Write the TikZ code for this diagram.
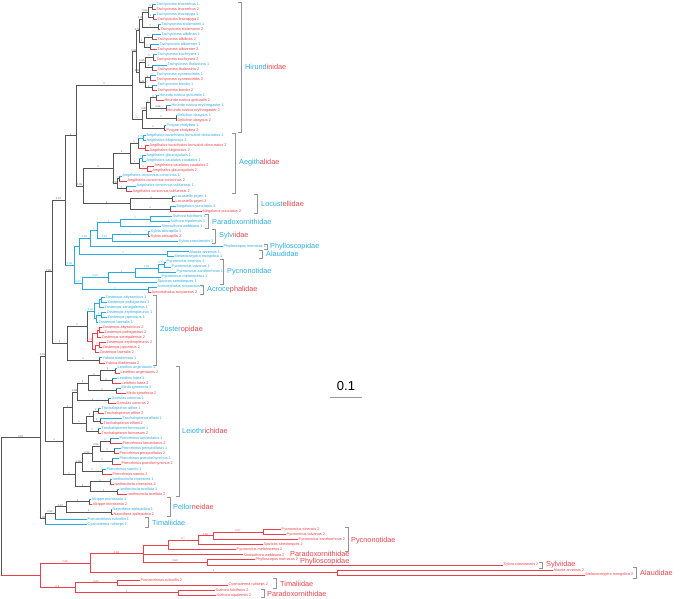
\documentclass[tikz,border=0pt]{standalone}
\usepackage{fontspec}
\setmainfont{Liberation Sans}
\definecolor{cy}{RGB}{41,171,226}
\definecolor{rd}{RGB}{232,65,75}
\definecolor{gk}{RGB}{85,85,85}
\newcommand\TIP[5]{\coordinate (#1) at (#2,{4.2+5.05*#3}); \node[tiplab,text=#4] (#1t) at (#1) {#5};}
\newcommand\ND[4]{\path (#3) -- (#4) coordinate[midway] (m#1); \coordinate (#1) at (m#1 -| #2,0);}
\newcommand\BR[5]{\draw[#1] (#3) -- (#3 |- #4); \draw[#2] (#3 |- #4) -- node[sup,text=#2]{#5} (#4);}
\newcommand\PR[3]{\BR{gk}{cy}{#1}{#2}{}\BR{gk}{rd}{#1}{#3}{}}
\newcommand\BRK[3]{\draw[brk] (#1-3,#2) -- (#1,#2) -- (#1,#3) -- (#1-3,#3);}
\begin{document}
\begin{tikzpicture}[x=1pt,y=-1pt,line width=0.45pt,line cap=rect,
 tiplab/.style={anchor=west,font=\fontsize{3.8}{4}\selectfont,inner sep=0.5pt},
 sup/.style={above,font=\fontsize{2.6}{3}\selectfont,inner sep=0.15pt},
 fam/.style={anchor=west,font=\fontsize{7.3}{8}\selectfont,inner sep=0pt},
 brk/.style={draw=gray!85,line width=0.5pt}]
\useasboundingbox (0,0) rectangle (683,598);
% ---------------- tips
\TIP{t0}{156}{0}{cy}{Tachycineta leucorrhoa 1}
\TIP{t1}{156}{1}{rd}{Tachycineta leucorrhoa 2}
\TIP{t2}{156}{2}{cy}{Tachycineta leucopyga 1}
\TIP{t3}{157}{3}{rd}{Tachycineta leucopyga 2}
\TIP{t4}{161}{4}{cy}{Tachycineta stolzmanni 1}
\TIP{t5}{160}{5}{rd}{Tachycineta stolzmanni 2}
\TIP{t6}{161}{6}{cy}{Tachycineta albilinea 1}
\TIP{t7}{157}{7}{rd}{Tachycineta albilinea 2}
\TIP{t8}{159}{8}{cy}{Tachycineta albiventer 1}
\TIP{t9}{157}{9}{rd}{Tachycineta albiventer 2}
\TIP{t10}{157}{10}{cy}{Tachycineta euchrysea 1}
\TIP{t11}{156}{11}{rd}{Tachycineta euchrysea 2}
\TIP{t12}{167}{12}{cy}{Tachycineta thalassina 1}
\TIP{t13}{157}{13}{rd}{Tachycineta thalassina 2}
\TIP{t14}{156}{14}{cy}{Tachycineta cyaneoviridis 1}
\TIP{t15}{156}{15}{rd}{Tachycineta cyaneoviridis 2}
\TIP{t16}{157}{16}{cy}{Tachycineta bicolor 1}
\TIP{t17}{157}{17}{rd}{Tachycineta bicolor 2}
\TIP{t18}{159}{18}{cy}{Hirundo rustica gutturalis 1}
\TIP{t19}{164}{19}{rd}{Hirundo rustica gutturalis 2}
\TIP{t20}{171}{20}{cy}{Hirundo rustica erythrogaster 1}
\TIP{t21}{167}{21}{rd}{Hirundo rustica erythrogaster 2}
\TIP{t22}{177}{22}{cy}{Delichon dasypus 1}
\TIP{t23}{177}{23}{rd}{Delichon dasypus 2}
\TIP{t24}{166}{24}{cy}{Progne chalybea 1}
\TIP{t25}{166}{25}{rd}{Progne chalybea 2}
\TIP{t26}{146}{26}{cy}{Aegithalos iouschistos bonvaloti obscuratus 1}
\TIP{t27}{146}{27}{cy}{Aegithalos fuliginosus 1}
\TIP{t28}{149}{28}{rd}{Aegithalos iouschistos bonvaloti obscuratus 2}
\TIP{t29}{149}{29}{rd}{Aegithalos fuliginosus 2}
\TIP{t30}{146}{30}{cy}{Aegithalos glaucogularis 1}
\TIP{t31}{146}{31}{cy}{Aegithalos caudatus caudatus 1}
\TIP{t32}{154}{32}{rd}{Aegithalos caudatus caudatus 2}
\TIP{t33}{152}{33}{rd}{Aegithalos glaucogularis 2}
\TIP{t34}{122}{34}{cy}{Aegithalos concinnus concinnus 1}
\TIP{t35}{127}{35}{rd}{Aegithalos concinnus concinnus 2}
\TIP{t36}{136}{36}{cy}{Aegithalos concinnus talifuensis 1}
\TIP{t37}{132}{37}{rd}{Aegithalos concinnus talifuensis 2}
\TIP{t38}{175}{38}{cy}{Locustella pryeri 1}
\TIP{t39}{175}{39}{rd}{Locustella pryeri 2}
\TIP{t40}{176}{40}{cy}{Megalurus punctatus 1}
\TIP{t41}{202}{41}{rd}{Megalurus punctatus 2}
\TIP{t42}{172}{42}{cy}{Suthora fulvifrons 1}
\TIP{t43}{170}{43}{cy}{Suthora nipalensis 1}
\TIP{t44}{161}{44}{cy}{Sinosuthora webbiana 1}
\TIP{t45}{150}{45}{cy}{Sylvia atricapilla 1}
\TIP{t46}{150}{46}{rd}{Sylvia atricapilla 2}
\TIP{t47}{178}{47}{cy}{Sylvia crassirostris 1}
\TIP{t48}{223}{48}{cy}{Phylloscopus inornatus 1}
\TIP{t49}{189}{49}{cy}{Alauda arvensis 1}
\TIP{t50}{174}{50}{cy}{Melanocorypha mongolica 1}
\TIP{t51}{166}{51}{cy}{Pycnonotus sinensis 1}
\TIP{t52}{171}{52}{cy}{Pycnonotus taivanus 1}
\TIP{t53}{176}{53}{cy}{Pycnonotus xanthorrhous 1}
\TIP{t54}{161}{54}{cy}{Pycnonotus melanicterus 1}
\TIP{t55}{157}{55}{cy}{Spizixos semitorques 1}
\TIP{t56}{157}{56}{cy}{Acrocephalus scirpaceus 1}
\TIP{t57}{151}{57}{rd}{Acrocephalus scirpaceus 2}
\TIP{t58}{105}{58}{cy}{Zosterops abyssinicus 1}
\TIP{t59}{107}{59}{cy}{Zosterops poliogastrus 1}
\TIP{t60}{104}{60}{cy}{Zosterops senegalensis 1}
\TIP{t61}{106}{61}{cy}{Zosterops erythropleurus 1}
\TIP{t62}{107}{62}{cy}{Zosterops japonicus 1}
\TIP{t63}{98}{63}{cy}{Zosterops lateralis 1}
\TIP{t64}{102}{64}{rd}{Zosterops abyssinicus 2}
\TIP{t65}{104}{65}{rd}{Zosterops poliogastrus 2}
\TIP{t66}{101}{66}{rd}{Zosterops senegalensis 2}
\TIP{t67}{106}{67}{rd}{Zosterops erythropleurus 2}
\TIP{t68}{102}{68}{rd}{Zosterops japonicus 2}
\TIP{t69}{99}{69}{rd}{Zosterops lateralis 2}
\TIP{t70}{102}{70}{cy}{Yuhina diademata 1}
\TIP{t71}{105}{71}{rd}{Yuhina diademata 2}
\TIP{t72}{117}{72}{cy}{Leiothrix argentauris 1}
\TIP{t73}{120}{73}{rd}{Leiothrix argentauris 2}
\TIP{t74}{117}{74}{cy}{Leiothrix lutea 1}
\TIP{t75}{121}{75}{rd}{Leiothrix lutea 2}
\TIP{t76}{121}{76}{cy}{Minla ignotincta 1}
\TIP{t77}{126}{77}{rd}{Minla ignotincta 2}
\TIP{t78}{111}{78}{cy}{Garrulax canorus 1}
\TIP{t79}{116}{79}{rd}{Garrulax canorus 2}
\TIP{t80}{101}{80}{cy}{Trochalopteron affine 1}
\TIP{t81}{104}{81}{rd}{Trochalopteron affine 2}
\TIP{t82}{122}{82}{cy}{Trochalopteron elliotii 1}
\TIP{t83}{103}{83}{rd}{Trochalopteron elliotii 2}
\TIP{t84}{101}{84}{cy}{Trochalopteron formosum 1}
\TIP{t85}{101}{85}{rd}{Trochalopteron formosum 2}
\TIP{t86}{119}{86}{cy}{Pterorhinus lanceolatus 1}
\TIP{t87}{122}{87}{rd}{Pterorhinus lanceolatus 2}
\TIP{t88}{121}{88}{cy}{Pterorhinus perspicillatus 1}
\TIP{t89}{119}{89}{rd}{Pterorhinus perspicillatus 2}
\TIP{t90}{119}{90}{cy}{Pterorhinus poecilorhynchus 1}
\TIP{t91}{121}{91}{rd}{Pterorhinus poecilorhynchus 2}
\TIP{t92}{106}{92}{cy}{Pterorhinus sannio 1}
\TIP{t93}{112}{93}{rd}{Pterorhinus sannio 2}
\TIP{t94}{112}{94}{cy}{Ianthocincla cineracea 1}
\TIP{t95}{114}{95}{rd}{Ianthocincla cineracea 2}
\TIP{t96}{119}{96}{cy}{Ianthocincla ocellata 1}
\TIP{t97}{127}{97}{rd}{Ianthocincla ocellata 2}
\TIP{t98}{91}{98}{cy}{Alcippe morrisonia 1}
\TIP{t99}{92}{99}{rd}{Alcippe morrisonia 2}
\TIP{t100}{112}{100}{cy}{Napothera epilepidota 1}
\TIP{t101}{113}{101}{rd}{Napothera epilepidota 2}
\TIP{t102}{87}{102}{cy}{Pomatorhinus ruficollis 1}
\TIP{t103}{87}{103}{cy}{Cyanoderma ruficeps 1}
\TIP{t104}{281}{104}{rd}{Pycnonotus sinensis 2}
\TIP{t105}{286}{105}{rd}{Pycnonotus taivanus 2}
\TIP{t106}{298}{106}{rd}{Pycnonotus xanthorrhous 2}
\TIP{t107}{263}{107}{rd}{Spizixos semitorques 2}
\TIP{t108}{236}{108}{rd}{Pycnonotus melanicterus 2}
\TIP{t109}{243}{109}{rd}{Sinosuthora webbiana 2}
\TIP{t110}{255}{110}{rd}{Phylloscopus inornatus 2}
\TIP{t111}{503}{111}{rd}{Sylvia crassirostris 2}
\TIP{t112}{553}{112}{rd}{Alauda arvensis 2}
\TIP{t113}{585}{113}{rd}{Melanocorypha mongolica 2}
\TIP{t114}{140}{114}{rd}{Pomatorhinus ruficollis 2}
\TIP{t115}{228}{115}{rd}{Cyanoderma ruficeps 2}
\TIP{t116}{215}{116}{rd}{Suthora fulvifrons 2}
\TIP{t117}{216}{117}{rd}{Suthora nipalensis 2}
% ---------------- Hirundinidae
\ND{hlr}{152}{t0}{t1}\ND{hlp}{153}{t2}{t3}\ND{hlrlp}{148}{hlr}{hlp}
\ND{hst}{158}{t4}{t5}\ND{hthree}{142}{hlrlp}{hst}
\ND{hal}{152}{t6}{t7}\ND{hav}{150}{t8}{t9}\ND{halav}{144}{hal}{hav}
\ND{hA}{139}{hthree}{halav}
\ND{heu}{153}{t10}{t11}\ND{hth}{152}{t12}{t13}\ND{heuth}{145}{heu}{hth}
\ND{hcy}{150}{t14}{t15}\ND{hbi}{152}{t16}{t17}\ND{hcybi}{145}{hcy}{hbi}
\ND{hB}{139}{heuth}{hcybi}\ND{hT}{136}{hA}{hB}
\ND{hg}{156}{t18}{t19}\ND{he}{166}{t20}{t21}\ND{hR}{150}{hg}{he}
\ND{hD}{176}{t22}{t23}\ND{hRD}{146}{hR}{hD}
\ND{hP}{164}{t24}{t25}\ND{hHP}{142}{hRD}{hP}
\ND{H0}{132}{hT}{hHP}
\PR{hlr}{t0}{t1}\PR{hlp}{t2}{t3}\PR{hst}{t4}{t5}\PR{hal}{t6}{t7}\PR{hav}{t8}{t9}
\PR{heu}{t10}{t11}\PR{hth}{t12}{t13}\PR{hcy}{t14}{t15}\PR{hbi}{t16}{t17}
\PR{hg}{t18}{t19}\PR{he}{t20}{t21}\PR{hD}{t22}{t23}\PR{hP}{t24}{t25}
\BR{gk}{gk}{hlrlp}{hlr}{1}\BR{gk}{gk}{hlrlp}{hlp}{1}
\BR{gk}{gk}{hthree}{hlrlp}{0.66}\BR{gk}{gk}{hthree}{hst}{1}
\BR{gk}{gk}{halav}{hal}{1}\BR{gk}{gk}{halav}{hav}{1}
\BR{gk}{gk}{hA}{hthree}{0.45}\BR{gk}{gk}{hA}{halav}{1}
\BR{gk}{gk}{heuth}{heu}{1}\BR{gk}{gk}{heuth}{hth}{1}
\BR{gk}{gk}{hcybi}{hcy}{1}\BR{gk}{gk}{hcybi}{hbi}{1}
\BR{gk}{gk}{hB}{heuth}{0.95}\BR{gk}{gk}{hB}{hcybi}{0.41}
\BR{gk}{gk}{hT}{hA}{0.58}\BR{gk}{gk}{hT}{hB}{0.95}
\BR{gk}{gk}{hR}{hg}{1}\BR{gk}{gk}{hR}{he}{0.98}
\BR{gk}{gk}{hRD}{hR}{1}\BR{gk}{gk}{hRD}{hD}{1}
\BR{gk}{gk}{hHP}{hRD}{0.81}\BR{gk}{gk}{hHP}{hP}{1}
\BR{gk}{gk}{H0}{hT}{0.85}\BR{gk}{gk}{H0}{hHP}{1}
% ---------------- Aegithalidae
\ND{aa}{143}{t26}{t27}\ND{ab}{145}{t28}{t29}\ND{aab}{138}{aa}{ab}
\ND{ac}{142}{t30}{t31}\ND{ad}{147}{t32}{t33}\ND{acd}{139}{ac}{ad}
\ND{Ag1}{130}{aab}{acd}
\ND{ca}{119}{t34}{t35}\ND{cb}{126}{t36}{t37}\ND{Co}{117}{ca}{cb}
\ND{Ag0}{113}{Ag1}{Co}
\BR{cy}{cy}{aa}{t26}{}\BR{cy}{cy}{aa}{t27}{}
\BR{rd}{rd}{ab}{t28}{}\BR{rd}{rd}{ab}{t29}{}
\BR{gk}{cy}{aab}{aa}{0.75}\BR{gk}{rd}{aab}{ab}{1}
\BR{cy}{cy}{ac}{t30}{}\BR{cy}{cy}{ac}{t31}{}
\BR{rd}{rd}{ad}{t32}{}\BR{rd}{rd}{ad}{t33}{}
\BR{gk}{cy}{acd}{ac}{1}\BR{gk}{rd}{acd}{ad}{1}
\BR{gk}{gk}{Ag1}{aab}{1}\BR{gk}{gk}{Ag1}{acd}{1}
\PR{ca}{t34}{t35}\PR{cb}{t36}{t37}
\BR{gk}{gk}{Co}{ca}{1}\BR{gk}{gk}{Co}{cb}{1}
\BR{gk}{gk}{Ag0}{Ag1}{1}\BR{gk}{gk}{Ag0}{Co}{0.99}
% ---------------- Locustellidae
\ND{Lp}{172}{t38}{t39}\ND{Mp}{170}{t40}{t41}\ND{Lo}{130}{Lp}{Mp}
\PR{Lp}{t38}{t39}\PR{Mp}{t40}{t41}
\BR{gk}{gk}{Lo}{Lp}{1}\BR{gk}{gk}{Lo}{Mp}{1}
\ND{B}{83}{Ag0}{Lo}\ND{A}{76}{H0}{B}
\BR{gk}{gk}{B}{Ag0}{1}\BR{gk}{gk}{B}{Lo}{1}
\BR{gk}{gk}{A}{H0}{1}\BR{gk}{gk}{A}{B}{0.98}
% ---------------- cyan clade
\ND{cSu}{150}{t42}{t43}\ND{cPa}{120}{cSu}{t44}
\ND{csa}{148}{t45}{t46}\ND{cSa}{112}{csa}{t47}
\ND{cPS}{97}{cPa}{cSa}\ND{cEa}{90}{cPS}{t48}
\ND{cAl}{167}{t49}{t50}\ND{cEb}{79}{cEa}{cAl}
\ND{pst}{164}{t51}{t52}\ND{pstx}{158}{pst}{t53}\ND{pstxm}{135}{pstx}{t54}\ND{cPy}{108}{pstxm}{t55}
\ND{cAc}{148}{t56}{t57}\ND{cEc}{82}{cPy}{cAc}\ND{cD}{74}{cEb}{cEc}
\BR{cy}{cy}{cSu}{t42}{}\BR{cy}{cy}{cSu}{t43}{}
\BR{cy}{cy}{cPa}{cSu}{1}\BR{cy}{cy}{cPa}{t44}{}
\BR{cy}{cy}{csa}{t45}{}\BR{cy}{rd}{csa}{t46}{}
\BR{cy}{cy}{cSa}{csa}{1}\BR{cy}{cy}{cSa}{t47}{}
\BR{cy}{cy}{cPS}{cPa}{1}\BR{cy}{cy}{cPS}{cSa}{0.61}
\BR{cy}{cy}{cEa}{cPS}{1}\BR{cy}{cy}{cEa}{t48}{}
\BR{cy}{cy}{cAl}{t49}{}\BR{cy}{cy}{cAl}{t50}{}
\BR{cy}{cy}{cEb}{cEa}{0.99}\BR{cy}{cy}{cEb}{cAl}{1}
\BR{cy}{cy}{pst}{t51}{}\BR{cy}{cy}{pst}{t52}{}
\BR{cy}{cy}{pstx}{pst}{0.79}\BR{cy}{cy}{pstx}{t53}{}
\BR{cy}{cy}{pstxm}{pstx}{0.98}\BR{cy}{cy}{pstxm}{t54}{}
\BR{cy}{cy}{cPy}{pstxm}{1}\BR{cy}{cy}{cPy}{t55}{}
\BR{cy}{cy}{cAc}{t56}{}\BR{cy}{rd}{cAc}{t57}{}
\BR{cy}{cy}{cEc}{cPy}{0.93}\BR{cy}{cy}{cEc}{cAc}{1}
\BR{cy}{cy}{cD}{cEb}{}\BR{cy}{cy}{cD}{cEc}{0.93}
\ND{C}{65}{A}{cD}
\BR{gk}{gk}{C}{A}{1}\BR{gk}{cy}{C}{cD}{0.96}
% ---------------- Zosteropidae
\ND{za}{101}{t58}{t59}\ND{zb}{99}{za}{t60}\ND{zc}{101}{t61}{t62}\ND{zd}{96}{zc}{t63}\ND{Gc}{94}{zb}{zd}
\ND{ze}{99}{t64}{t65}\ND{zf}{97}{ze}{t66}\ND{zg}{99}{t67}{t68}\ND{zh}{95}{zg}{t69}\ND{Gr}{92}{zf}{zh}
\ND{ZZ}{87}{Gc}{Gr}\ND{Yu}{99}{t70}{t71}\ND{Z}{67}{ZZ}{Yu}
\BR{cy}{cy}{za}{t58}{}\BR{cy}{cy}{za}{t59}{}\BR{cy}{cy}{zb}{za}{1}\BR{cy}{cy}{zb}{t60}{}
\BR{cy}{cy}{zc}{t61}{}\BR{cy}{cy}{zc}{t62}{}\BR{cy}{cy}{zd}{zc}{1}\BR{cy}{cy}{zd}{t63}{}
\BR{cy}{cy}{Gc}{zb}{}\BR{cy}{cy}{Gc}{zd}{}
\BR{rd}{rd}{ze}{t64}{}\BR{rd}{rd}{ze}{t65}{}\BR{rd}{rd}{zf}{ze}{1}\BR{rd}{rd}{zf}{t66}{}
\BR{rd}{rd}{zg}{t67}{}\BR{rd}{rd}{zg}{t68}{}\BR{rd}{rd}{zh}{zg}{1}\BR{rd}{rd}{zh}{t69}{}
\BR{rd}{rd}{Gr}{zf}{}\BR{rd}{rd}{Gr}{zh}{}
\BR{gk}{cy}{ZZ}{Gc}{0.92}\BR{gk}{rd}{ZZ}{Gr}{0.72}
\PR{Yu}{t70}{t71}
\BR{gk}{gk}{Z}{ZZ}{1}\BR{gk}{gk}{Z}{Yu}{1}
\ND{Q}{52}{C}{Z}
\BR{gk}{gk}{Q}{C}{0.97}\BR{gk}{gk}{Q}{Z}{1}
% ---------------- Leiothrichidae
\ND{la}{115}{t72}{t73}\ND{ll}{112}{t74}{t75}\ND{NL}{100}{la}{ll}\ND{Mi}{116}{t76}{t77}
\ND{LM}{88}{NL}{Mi}\ND{Gcn}{108}{t78}{t79}\ND{LA}{77}{LM}{Gcn}
\ND{af}{98}{t80}{t81}\ND{el}{100}{t82}{t83}\ND{ae}{93}{af}{el}\ND{fo}{98}{t84}{t85}
\ND{Tro}{86}{ae}{fo}\ND{LB}{72}{LA}{Tro}
\ND{pl}{110}{t86}{t87}\ND{pp}{114}{t88}{t89}\ND{plp}{100}{pl}{pp}\ND{po}{112}{t90}{t91}
\ND{lpp}{92}{plp}{po}\ND{psa}{102}{t92}{t93}\ND{Pter}{82}{lpp}{psa}
\ND{ci}{110}{t94}{t95}\ND{oc}{117}{t96}{t97}\ND{Ian}{90}{ci}{oc}
\ND{LC}{75}{Pter}{Ian}\ND{L0}{63}{LB}{LC}
\PR{la}{t72}{t73}\PR{ll}{t74}{t75}\PR{Mi}{t76}{t77}\PR{Gcn}{t78}{t79}
\PR{af}{t80}{t81}\PR{el}{t82}{t83}\PR{fo}{t84}{t85}
\PR{pl}{t86}{t87}\PR{pp}{t88}{t89}\PR{po}{t90}{t91}\PR{psa}{t92}{t93}
\PR{ci}{t94}{t95}\PR{oc}{t96}{t97}
\BR{gk}{gk}{NL}{la}{1}\BR{gk}{gk}{NL}{ll}{1}
\BR{gk}{gk}{LM}{NL}{1}\BR{gk}{gk}{LM}{Mi}{1}
\BR{gk}{gk}{LA}{LM}{1}\BR{gk}{gk}{LA}{Gcn}{1}
\BR{gk}{gk}{ae}{af}{1}\BR{gk}{gk}{ae}{el}{1}
\BR{gk}{gk}{Tro}{ae}{1}\BR{gk}{gk}{Tro}{fo}{1}
\BR{gk}{gk}{LB}{LA}{0.98}\BR{gk}{gk}{LB}{Tro}{1}
\BR{gk}{gk}{plp}{pl}{1}\BR{gk}{gk}{plp}{pp}{1}
\BR{gk}{gk}{lpp}{plp}{0.94}\BR{gk}{gk}{lpp}{po}{1}
\BR{gk}{gk}{Pter}{lpp}{0.92}\BR{gk}{gk}{Pter}{psa}{1}
\BR{gk}{gk}{Ian}{ci}{1}\BR{gk}{gk}{Ian}{oc}{1}
\BR{gk}{gk}{LC}{Pter}{0.95}\BR{gk}{gk}{LC}{Ian}{1}
\BR{gk}{gk}{L0}{LB}{1}\BR{gk}{gk}{L0}{LC}{1}
\ND{V}{45}{Q}{L0}
\BR{gk}{gk}{V}{Q}{0.89}\BR{gk}{gk}{V}{L0}{1}
% ---------------- Pellorneidae / Timaliidae
\ND{Alc}{89}{t98}{t99}\ND{Nap}{111}{t100}{t101}\ND{Pe}{66}{Alc}{Nap}
\ND{Pez}{55}{Pe}{t102}\ND{PT}{45}{Pez}{t103}
\PR{Alc}{t98}{t99}\PR{Nap}{t100}{t101}
\BR{gk}{gk}{Pe}{Alc}{1}\BR{gk}{gk}{Pe}{Nap}{1}
\BR{gk}{gk}{Pez}{Pe}{0.97}\BR{gk}{cy}{Pez}{t102}{}
\BR{gk}{gk}{PT}{Pez}{0.94}\BR{gk}{cy}{PT}{t103}{}
\ND{U}{40}{V}{PT}
\BR{gk}{gk}{U}{V}{0.92}\BR{gk}{gk}{U}{PT}{0.98}
% ---------------- red clade
\ND{rst}{263}{t104}{t105}\ND{rstx}{213}{rst}{t106}\ND{rPa}{198}{rstx}{t107}
\ND{rPb}{168}{rPa}{t108}\ND{rPhS}{207}{t110}{t111}\ND{rM}{143}{rPb}{rPhS}
\ND{rAl}{337}{t112}{t113}\ND{Ra}{90}{rM}{rAl}
\ND{rTi}{117}{t114}{t115}\ND{rSu}{178}{t116}{t117}\ND{Rb}{75}{rTi}{rSu}
\ND{R0}{40}{Ra}{Rb}
\BR{rd}{rd}{rst}{t104}{}\BR{rd}{rd}{rst}{t105}{}
\BR{rd}{rd}{rstx}{rst}{0.97}\BR{rd}{rd}{rstx}{t106}{}
\BR{rd}{rd}{rPa}{rstx}{0.89}\BR{rd}{rd}{rPa}{t107}{}
\BR{rd}{rd}{rPb}{rPa}{0.7}\BR{rd}{rd}{rPb}{t108}{}
\BR{rd}{rd}{rPhS}{t110}{}\BR{rd}{rd}{rPhS}{t111}{}
\BR{rd}{rd}{rM}{rPb}{}\BR{rd}{rd}{rM}{t109}{}\BR{rd}{rd}{rM}{rPhS}{0.99}
\BR{rd}{rd}{rAl}{t112}{}\BR{rd}{rd}{rAl}{t113}{}
\BR{rd}{rd}{Ra}{rM}{0.89}\BR{rd}{rd}{Ra}{rAl}{1}
\BR{rd}{rd}{rTi}{t114}{}\BR{rd}{rd}{rTi}{t115}{}
\BR{rd}{rd}{rSu}{t116}{}\BR{rd}{rd}{rSu}{t117}{}
\BR{rd}{rd}{Rb}{rTi}{0.89}\BR{rd}{rd}{Rb}{rSu}{1}
\BR{rd}{rd}{R0}{Ra}{0.99}\BR{rd}{rd}{R0}{Rb}{0.9}
\ND{root}{1.5}{U}{R0}
\BR{gk}{gk}{root}{U}{0.97}\BR{gk}{rd}{root}{R0}{}
% ---------------- family labels
\BRK{241}{2}{132}\node[fam] (fHir) at (245,67) {\textcolor{cy}{Hirund}\textcolor{rd}{inidae}};
\BRK{235}{133}{193}\node[fam] (fAeg) at (239,163) {\textcolor{cy}{Aegith}\textcolor{rd}{alidae}};
\BRK{257}{194}{213}\node[fam] (fLoc) at (261,203.5) {\textcolor{cy}{Locust}\textcolor{rd}{ellidae}};
\BRK{208}{214}{228}\node[fam,text=cy] (fPar) at (212,221.5) {Paradoxornithidae};
\BRK{215}{229}{243}\node[fam] (fSyl) at (219,236) {\textcolor{cy}{Sylv}\textcolor{rd}{iidae}};
\BRK{267}{244}{249}\node[fam,text=cy] (fPhy) at (270,247) {Phylloscopidae};
\BRK{262}{250}{258}\node[fam,text=cy] (fAla) at (266,254) {Alaudidae};
\BRK{223}{259}{284}\node[fam,text=cy] (fPyc) at (227,271.5) {Pycnonotidae};
\BRK{203}{285}{294}\node[fam] (fAcr) at (207,289.5) {\textcolor{cy}{Acroce}\textcolor{rd}{phalidae}};
\BRK{156}{295}{365}\node[fam] (fZos) at (160,330) {\textcolor{cy}{Zoster}\textcolor{rd}{opidae}};
\BRK{179}{366}{496}\node[fam] (fLei) at (182,431) {\textcolor{cy}{Leiothr}\textcolor{rd}{ichidae}};
\BRK{170}{497}{516}\node[fam] (fPel) at (173,507) {\textcolor{cy}{Pellor}\textcolor{rd}{neidae}};
\BRK{148}{517}{527}\node[fam,text=cy] (fTim) at (152,522.5) {Timaliidae};
\BRK{348}{527}{551}\node[fam,text=rd] (rPyc) at (351,541) {Pycnonotidae};
\node[fam,text=rd] (rPar) at (290,554) {Paradoxornithidae};
\node[fam,text=rd] (rPhy) at (300,561.5) {Phylloscopidae};
\BRK{542}{562}{568}\node[fam,text=rd] (rSyl) at (546,565) {Sylviidae};
\BRK{636}{567}{578}\node[fam,text=rd] (rAla) at (640,573) {Alaudidae};
\BRK{276}{578}{588}\node[fam,text=rd] (rTim) at (280,584) {Timaliidae};
\BRK{264}{589}{597}\node[fam,text=rd] (rPara) at (267,593.5) {Paradoxornithidae};
% ---------------- scale bar
\coordinate (sbL) at (330,397);\coordinate (sbR) at (362,397);
\draw[gray!80,line width=0.8pt] (sbL) -- (sbR);
\node[font=\fontsize{13}{14}\selectfont,inner sep=0pt] (sbT) at (346,386) {0.1};
\end{tikzpicture}
\end{document}
